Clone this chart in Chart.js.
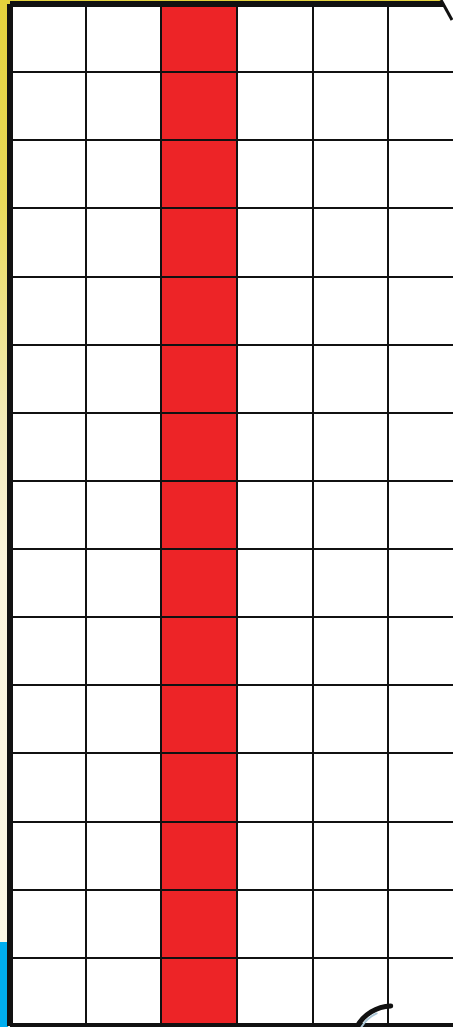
<!DOCTYPE html>
<html>
<head>
<meta charset="utf-8">
<script src="https://cdn.jsdelivr.net/npm/chart.js@4/dist/chart.umd.min.js"></script>
<style>
  html, body { margin: 0; padding: 0; background: #fff; }
  #wrap {
    position: relative; width: 453px; height: 1027px; overflow: hidden;
    background: linear-gradient(to bottom, #e4d23c 0px, #e9da5a 200px, #f3ebb8 420px, #faf4dc 560px, #fcf8e6 940px);
  }
  #blue { position: absolute; left: 0; top: 942px; width: 8px; height: 85px; background: #00aeef; }
  #grafico { position: absolute; left: 0; top: 0; }
</style>
</head>
<body>
<div id="wrap">
  <div id="blue"></div>
  <canvas id="grafico" width="470" height="1027"></canvas>
</div>
<script>
// colunas da grade e altura da coluna vermelha (em linhas)
const colunas = ['1', '2', '3', '4', '5', '6'];
const vermelho = [0, 0, 15, 0, 0, 0];
const linhaMin = 0;
const linhaMax = 15;

// fundo branco só dentro da área do gráfico
const fundoBranco = {
    id: 'fundoBranco',
    beforeDraw(chart) {
        const { ctx, chartArea: a } = chart;
        ctx.save();
        ctx.fillStyle = '#ffffff';
        ctx.fillRect(a.left, a.top, a.right - a.left, a.bottom - a.top);
        ctx.restore();
    }
};

// rasgo no canto superior direito e o arco no canto inferior
const detalhes = {
    id: 'detalhes',
    afterDraw(chart) {
        const ctx = chart.ctx;
        ctx.save();
        ctx.fillStyle = '#ffffff';
        ctx.beginPath();
        ctx.moveTo(442, 0); ctx.lineTo(470, 0); ctx.lineTo(470, 30); ctx.lineTo(453, 20);
        ctx.closePath();
        ctx.fill();
        ctx.strokeStyle = '#111';
        ctx.lineWidth = 3;
        ctx.beginPath();
        ctx.moveTo(441, 0); ctx.lineTo(452, 20);
        ctx.stroke();

        ctx.lineCap = 'round';
        ctx.strokeStyle = '#111';
        ctx.lineWidth = 5;
        ctx.beginPath();
        ctx.arc(392, 1046, 40, Math.PI * 1.16, Math.PI * 1.49);
        ctx.stroke();
        ctx.strokeStyle = '#a9c6d6';
        ctx.lineWidth = 2;
        ctx.beginPath();
        ctx.arc(392, 1046, 36, Math.PI * 1.17, Math.PI * 1.36);
        ctx.stroke();
        ctx.restore();
    }
};

const ctx = document.getElementById('grafico').getContext('2d');
const grafico = new Chart(ctx, {
    type: 'bar',
    data: {
        labels: colunas,
        datasets: [{
            data: vermelho,
            backgroundColor: '#ed2427',
            borderWidth: 0,
            barPercentage: 1,
            categoryPercentage: 1
        }]
    },
    options: {
        responsive: false,
        animation: false,
        layout: { padding: { left: 10, top: 4, right: 6, bottom: 1 } },
        plugins: { legend: { display: false }, tooltip: { enabled: false } },
        scales: {
            x: {
                ticks: { display: false },
                border: { display: false },
                grid: {
                    z: 1,
                    offset: true,
                    drawTicks: false,
                    color: '#111',
                    lineWidth: c => (c.index === 0 ? 6 : 2)
                },
                afterFit: s => { s.height = 0; }
            },
            y: {
                min: linhaMin,
                max: linhaMax,
                ticks: { display: false, stepSize: 1 },
                border: { display: false },
                grid: {
                    z: 1,
                    drawTicks: false,
                    color: '#111',
                    lineWidth: c => (c.tick && (c.tick.value === linhaMin || c.tick.value === linhaMax) ? 6 : 2)
                },
                afterFit: s => { s.width = 0; }
            }
        }
    },
    plugins: [fundoBranco, detalhes]
});
</script>
</body>
</html>
